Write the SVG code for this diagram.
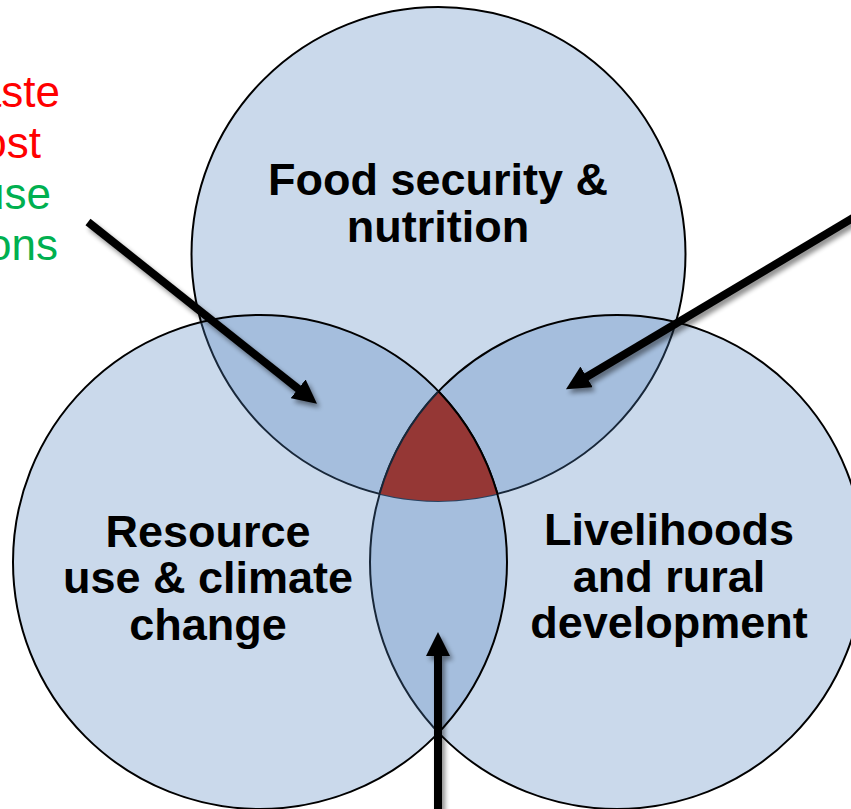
<svg xmlns="http://www.w3.org/2000/svg" width="851" height="809" viewBox="0 0 851 809">
  <style>
    .circle { fill: #4F81BD; fill-opacity: 0.3; stroke: #000; stroke-width: 2; }
    .label { font-family: "Liberation Sans", Arial, sans-serif; font-weight: bold; font-size: 45px; fill: #000; text-anchor: middle; }
    .side { font-family: "Liberation Sans", Arial, sans-serif; font-size: 44px; text-anchor: end; }
    .red { fill: #FF0000; }
    .green { fill: #00B050; }
    .arrow { stroke: #000; stroke-width: 8; fill: none; marker-end: url(#head); }
  </style>
  <defs>
    <marker id="head" viewBox="0 0 24 24" refX="10" refY="12" markerWidth="24" markerHeight="24" markerUnits="userSpaceOnUse" orient="auto">
      <path d="M0,0 L24,12 L0,24 z" fill="#000"/>
    </marker>
    <filter id="shadow" x="-20%" y="-20%" width="140%" height="140%">
      <feGaussianBlur in="SourceAlpha" stdDeviation="2.5"/>
      <feOffset dx="3" dy="4" result="blur"/>
      <feComponentTransfer><feFuncA type="linear" slope="0.45"/></feComponentTransfer>
      <feMerge><feMergeNode/><feMergeNode in="SourceGraphic"/></feMerge>
    </filter>
  </defs>

  <rect width="851" height="809" fill="#fff"/>

  <!-- side notes running off the left edge -->
  <g id="notes">
    <text class="side red" x="60" y="107">aste</text>
    <text class="side red" x="41" y="158">ost</text>
    <text class="side green" x="51" y="209">use</text>
    <text class="side green" x="58" y="260">ons</text>
  </g>

  <g id="food-security">
    <circle class="circle" cx="438.5" cy="254" r="247"/>
  </g>
  <g id="livelihoods">
    <circle class="circle" cx="617" cy="562" r="247"/>
  </g>
  <g id="resource-use">
    <circle class="circle" cx="260" cy="562" r="247"/>
  </g>

  <!-- centre where all three overlap -->
  <g id="core">
    <path d="M438.5,391.3 A247,247 0 0 1 497.4,493.8 A247,247 0 0 1 379.6,493.8 A247,247 0 0 1 438.5,391.3 z" fill="#953735"/>
    <path d="M379.6,493.8 A247,247 0 0 1 438.5,391.3" fill="none" stroke="#182739" stroke-width="2"/>
    <path d="M438.5,391.3 A247,247 0 0 1 497.4,493.8" fill="none" stroke="#000" stroke-width="2"/>
  </g>

  <g id="labels">
    <text class="label" x="438" y="195">Food security &amp;</text>
    <text class="label" x="438" y="242">nutrition</text>
    <text class="label" x="208" y="547">Resource</text>
    <text class="label" x="208" y="593">use &amp; climate</text>
    <text class="label" x="208" y="640">change</text>
    <text class="label" x="669" y="545">Livelihoods</text>
    <text class="label" x="669" y="592">and rural</text>
    <text class="label" x="669" y="638">development</text>
  </g>

  <g id="connectors" filter="url(#shadow)">
    <path class="arrow" d="M88,222 L306,395"/>
    <path class="arrow" d="M858,215 L578,382"/>
    <path class="arrow" d="M438,815 L438,646"/>
  </g>
</svg>
